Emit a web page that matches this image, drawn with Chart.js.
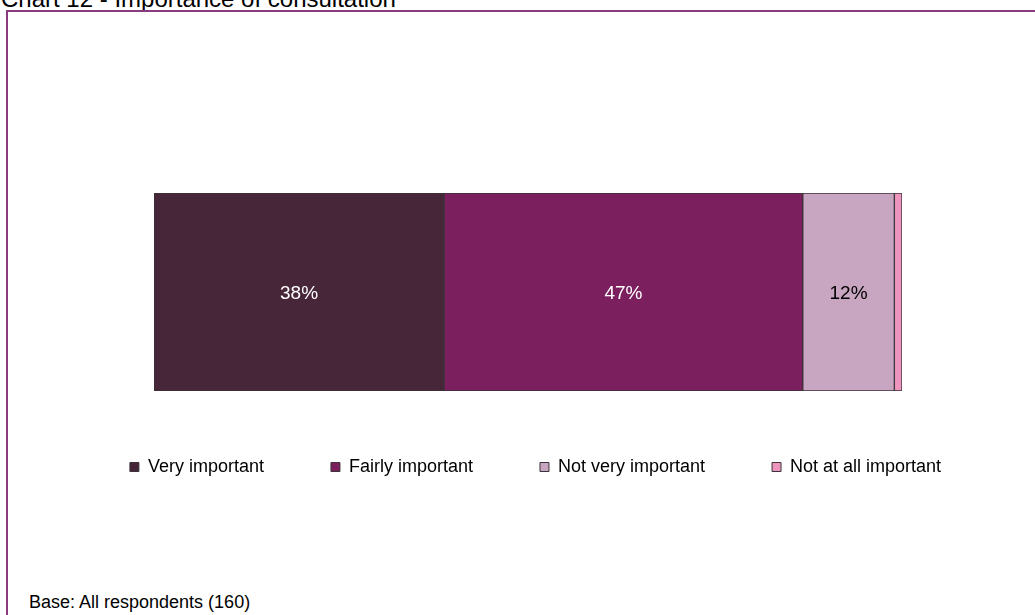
<!DOCTYPE html>
<html>
<head>
<meta charset="utf-8">
<script src="https://cdn.jsdelivr.net/npm/chart.js@4.4.0/dist/chart.umd.min.js"></script>
<style>
    html, body {margin: 0; padding: 0; background: #fff; overflow: hidden;}
    body {width: 1035px; height: 615px; position: relative; font-family: "Liberation Sans", Arial, sans-serif;}
    #title {position: absolute; left: 1px; top: -13px; font-size: 24px; line-height: 24px; color: #000; white-space: nowrap;}
    #frame {position: absolute; left: 6px; top: 10px; width: 1100px; height: 700px; border: 2px solid #8a3a7e; box-sizing: border-box;}
    #wrap {position: absolute; left: 0; top: 0; width: 1035px; height: 500px;}
    #base {position: absolute; left: 29px; top: 593px; font-size: 18px; line-height: 18px; color: #000; white-space: nowrap;}
</style>
</head>
<body>
<div id="title">Chart 12 - Importance of consultation</div>
<div id="frame"></div>
<div id="wrap"><canvas id="chart"></canvas></div>
<div id="base">Base: All respondents (160)</div>
<script>
    const categories = [""];
    const seriesNames = ["Very important", "Fairly important", "Not very important", "Not at all important"];
    const seriesValues = [38, 47, 12, 1];
    const colors = ["#47263a", "#7b1f5e", "#c8a5c1", "#ee95be"];
    const labelColors = ["#fff", "#fff", "#000", "#000"];

    const total = seriesValues.reduce((a, b) => a + b, 0);

    // values printed in the middle of each segment (small ones are skipped)
    const barLabels = {
        id: "barLabels",
        afterDatasetsDraw(chart) {
            const {ctx} = chart;
            ctx.save();
            ctx.font = "19px 'Liberation Sans', Arial, sans-serif";
            ctx.textAlign = "center";
            ctx.textBaseline = "middle";
            chart.data.datasets.forEach((ds, i) => {
                const meta = chart.getDatasetMeta(i);
                meta.data.forEach((bar, j) => {
                    const v = ds.data[j];
                    if (v < 5) return;
                    const p = bar.getCenterPoint();
                    ctx.fillStyle = labelColors[i];
                    ctx.fillText(v + "%", p.x, p.y + 2);
                });
            });
            ctx.restore();
        }
    };

    const hiddenAxis = (position, width) => ({
        type: "category",
        position,
        stacked: true,
        ticks: {display: false},
        grid: {display: false},
        border: {display: false},
        afterFit: a => { a.width = width; }
    });

    new Chart(document.getElementById("chart"), {
        type: "bar",
        data: {
            labels: categories,
            datasets: seriesNames.map((name, i) => ({
                label: name,
                data: [seriesValues[i]],
                backgroundColor: colors[i],
                borderColor: "#3a3338",
                borderWidth: 1,
                borderSkipped: false,
                barPercentage: 1,
                categoryPercentage: 1
            }))
        },
        options: {
            indexAxis: "y",
            responsive: true,
            maintainAspectRatio: false,
            animation: false,
            layout: {padding: {left: 36, right: 0, top: 193, bottom: 14}},
            scales: {
                x: {stacked: true, min: 0, max: total, display: false},
                y: hiddenAxis("left", 118),
                y2: hiddenAxis("right", 133)
            },
            plugins: {
                tooltip: {enabled: false},
                legend: {
                    position: "bottom",
                    labels: {
                        boxWidth: 9,
                        boxHeight: 9,
                        padding: 67,
                        color: "#000",
                        font: {family: "'Liberation Sans', Arial, sans-serif", size: 18}
                    }
                }
            }
        },
        plugins: [barLabels]
    });
</script>
</body>
</html>
